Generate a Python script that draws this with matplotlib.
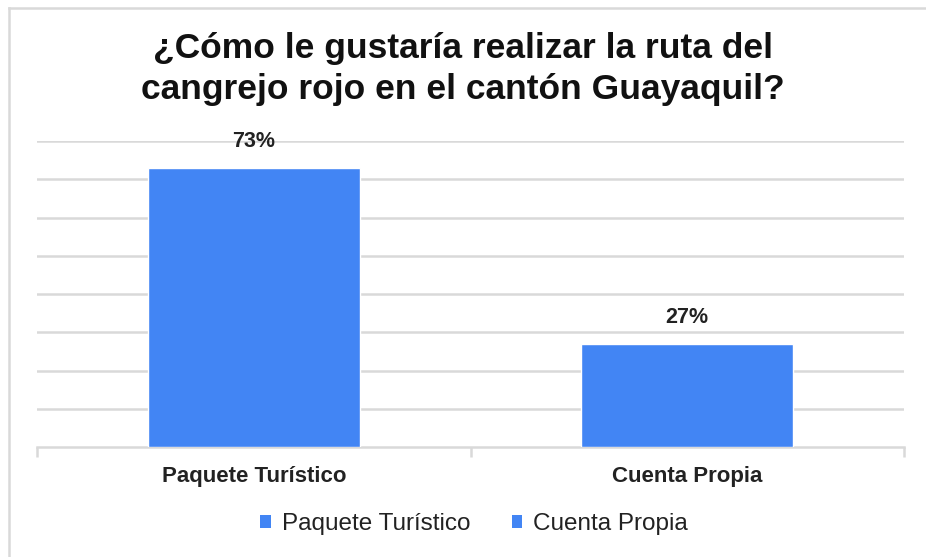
import matplotlib
matplotlib.use("Agg")
import matplotlib.pyplot as plt
from matplotlib.lines import Line2D
from matplotlib.patches import Patch

categories = ["Paquete Turístico", "Cuenta Propia"]
values = [73, 27]
labels = ["73%", "27%"]
title = "¿Cómo le gustaría realizar la ruta del\ncangrejo rojo en el cantón Guayaquil?"

plt.rcParams['font.family'] = ['Liberation Sans', 'DejaVu Sans']
W, H = 926, 557
fig = plt.figure(figsize=(W/100, H/100), dpi=100)
ax = fig.add_axes([37/W, 1-447/H, (904-37)/W, (447-141)/H])

color = "#4285F4"
grid = "#d9d9d9"
x = list(range(len(categories)))
bars = ax.bar(x, values, width=0.49, color=color, edgecolor="white", linewidth=1, zorder=3)
ax.set_xlim(-0.5, len(categories)-0.5)
ax.set_ylim(0, 80)
ax.set_yticks(range(10, 81, 10))
ax.yaxis.grid(True, color=grid, linewidth=1.8, zorder=0)
ax.tick_params(axis='y', left=False, labelleft=False)
for s in ["top", "right", "left"]:
    ax.spines[s].set_visible(False)
ax.spines["bottom"].set_color(grid)
ax.spines["bottom"].set_linewidth(1.8)
ax.set_xticks([-0.5, 0.5, 1.5], minor=True)
ax.tick_params(axis='x', which='minor', length=7, width=1.8, color=grid)
ax.tick_params(axis='x', which='major', length=0, pad=14)
ax.set_xticks(x)
ax.set_xticklabels(categories, fontsize=16, fontweight='bold', color="#222222")

for b, lab in zip(bars, labels):
    ax.annotate(lab, (b.get_x()+b.get_width()/2, b.get_height()), xytext=(0, 11),
                textcoords="offset points", ha='center', va='bottom',
                fontsize=15.5, fontweight='bold', color="#222222")

fig.text(0.5, 1-69/H, title, ha='center', va='center', fontsize=25.5,
         fontweight='bold', color="#111111", linespacing=1.32)

handles = [Patch(facecolor=color, edgecolor='none', label=c) for c in categories]
leg = fig.legend(handles=handles, loc='center', bbox_to_anchor=(474/W, 1-524/H), ncol=2,
                 frameon=False, fontsize=17.5, handlelength=0.45, handleheight=0.45,
                 handletextpad=0.45, columnspacing=1.7)
for t in leg.get_texts():
    t.set_color("#222222")

fig.add_artist(Line2D([9/W, 9/W], [0, 1-8/H], color="#d9d9d9", linewidth=1.8))
fig.add_artist(Line2D([9/W, 1], [1-8/H, 1-8/H], color="#d9d9d9", linewidth=1.8))

fig.savefig("out.png", dpi=100)
